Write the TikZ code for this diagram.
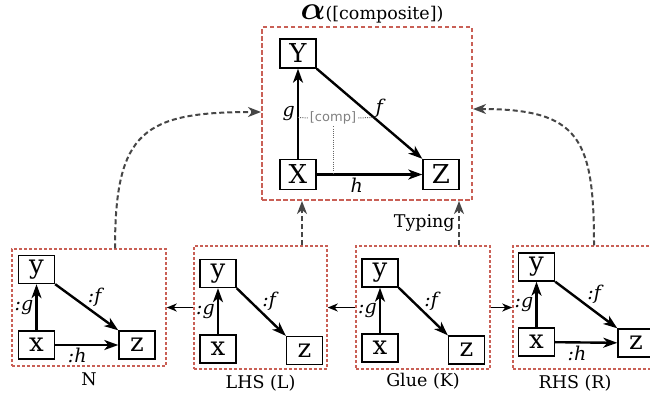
\documentclass[tikz,border=0pt]{standalone}
\usepackage{fontspec}
\setmainfont{DejaVu Serif}
\setsansfont{DejaVu Sans}
\usetikzlibrary{arrows.meta,positioning}
\definecolor{framered}{RGB}{201,96,86}
\definecolor{linkgray}{RGB}{70,70,70}
\tikzset{frame/.style={draw=framered, line width=1.5pt, dash pattern=on 3pt off 2pt, inner sep=0pt},
  obj/.style={draw, line width=1.4pt, minimum width=36pt, minimum height=28pt, inner sep=0pt, font=\fontsize{26}{26}\selectfont},
  arr/.style={-{Stealth[length=14pt,width=10pt,inset=4pt]}, line width=2.4pt},
  lbl/.style={font=\fontsize{19}{19}\selectfont\itshape, inner sep=2pt},
  link/.style={-{Stealth[length=10pt,width=8pt,inset=3pt]}, line width=1.6pt},
  typing/.style={-{Stealth[length=13pt,width=10pt,inset=4pt]}, draw=linkgray, line width=2pt, dash pattern=on 5pt off 3pt},
  caption/.style={font=\fontsize{17.5}{17.5}\selectfont},
  compline/.style={draw=gray!80!black, line width=1pt, dash pattern=on 1pt off 1.2pt}}

\begin{document}
\begin{tikzpicture}[x=1pt,y=-1pt]
    \useasboundingbox (0,0) rectangle (650,400);
    % the frames
    \node[frame, line width=2pt, dash pattern=on 4.5pt off 2.5pt, minimum width=210pt, minimum height=173pt] (C) at (367,113.5) {};
    \node[frame, minimum width=154pt, minimum height=117pt] (N) at (89,307.5) {};
    \node[frame, minimum width=133pt, minimum height=123pt] (L) at (260.5,307.5) {};
    \node[frame, minimum width=134pt, minimum height=123pt] (K) at (423,307.5) {};
    \node[frame, minimum width=154pt, minimum height=123pt] (R) at (590,307.5) {};
    \node[inner sep=0pt, anchor=base, font=\fontsize{17.5}{17.5}\selectfont] (T) at (372,19) {\scalebox{1.9}{\boldmath$\alpha$}([composite])};
    % composite
    \node[obj, minimum height=29pt] (Y) at (298,53.5) {Y};
    \node[obj, minimum height=30pt] (X) at (298,174.5) {X};
    \node[obj, minimum height=30pt] (Z) at (441,174.5) {Z};
    \draw[arr] (X) -- node[lbl,left]{g} coordinate[pos=0.46] (gp) (Y);
    \draw[arr] (Y.south east) -- node[lbl,pos=0.55,above right,inner sep=0pt]{f} coordinate[pos=0.54] (fp) (Z.north west);
    \draw[arr] (X) -- node[lbl,pos=0.38,below]{h} (Z);
    \node[font=\sffamily\fontsize{13}{13}\selectfont, text=gray, inner sep=2pt] (cmp) at (333,118) {[comp]};
    \draw[compline] (gp) -- (cmp.west);
    \draw[compline] (cmp.east) -- (fp);
    \draw[compline] (cmp.south) -- (cmp.south |- X.east);
    % N
    \node[obj] (Ny) at (36.5,269.5) {y};
    \node[obj] (Nx) at (36.5,345) {x};
    \node[obj] (Nz) at (137,345) {z};
    \draw[arr] (Nx) -- node[lbl,left]{:g} (Ny);
    \draw[arr] (Ny.south east) -- node[lbl,pos=0.5,above right,inner sep=0pt]{:f} (Nz.north west);
    \draw[arr] (Nx) -- node[lbl,pos=0.35,below]{:h} (Nz);
    % LHS
    \node[obj] (Ly) at (218,273.5) {y};
    \node[obj] (Lx) at (218,349) {x};
    \node[obj] (Lz) at (304.5,350.5) {z};
    \draw[arr] (Lx) -- node[lbl,left]{:g} (Ly);
    \draw[arr] (Ly.south east) -- node[lbl,pos=0.5,above right,inner sep=0pt]{:f} (Lz.north west);
    % glue
    \node[obj] (Ky) at (380,273) {y};
    \node[obj] (Kx) at (380,348) {x};
    \node[obj] (Kz) at (466.5,350) {z};
    \draw[arr] (Kx) -- node[lbl,left]{:g} (Ky);
    \draw[arr] (Ky.south east) -- node[lbl,pos=0.5,above right,inner sep=0pt]{:f} (Kz.north west);
    % RHS
    \node[obj] (Ry) at (536.5,267) {y};
    \node[obj] (Rx) at (536.5,342) {x};
    \node[obj] (Rz) at (636,343) {z};
    \draw[arr] (Rx) -- node[lbl,left]{:g} (Ry);
    \draw[arr] (Ry.south east) -- node[lbl,pos=0.5,above right,inner sep=0pt]{:f} (Rz.north west);
    \draw[arr] (Rx) -- node[lbl,pos=0.35,below]{:h} (Rz);
    % captions
    \node[caption, below=2pt of N] (Ncap) {N};
    \node[caption, below=2pt of L] (Lcap) {LHS (L)};
    \node[caption, below=0pt of K] (Kcap) {Glue (K)};
    \node[caption, below=2pt of R, xshift=-15pt] (Rcap) {RHS (R)};
    % span and typing
    \draw[link] (K.west) -- (L.east);
    \draw[link] (L.west) -- (N.east);
    \draw[link] (K.east) -- (R.west);
    \draw[typing] ([xshift=41.5pt]L.north) -- ([xshift=41.5pt]L.north |- C.south);
    \draw[typing] ([xshift=36pt]K.north) -- node[caption,left]{Typing} ([xshift=36pt]K.north |- C.south);
    \draw[typing] ([xshift=26pt]N.north) to[out=90,in=180,looseness=1.5] ([yshift=1.5pt]C.west);
    \draw[typing] ([xshift=4pt]R.north) to[out=90,in=0,looseness=1.5] ([yshift=4.5pt]C.east);
\end{tikzpicture}
\end{document}
